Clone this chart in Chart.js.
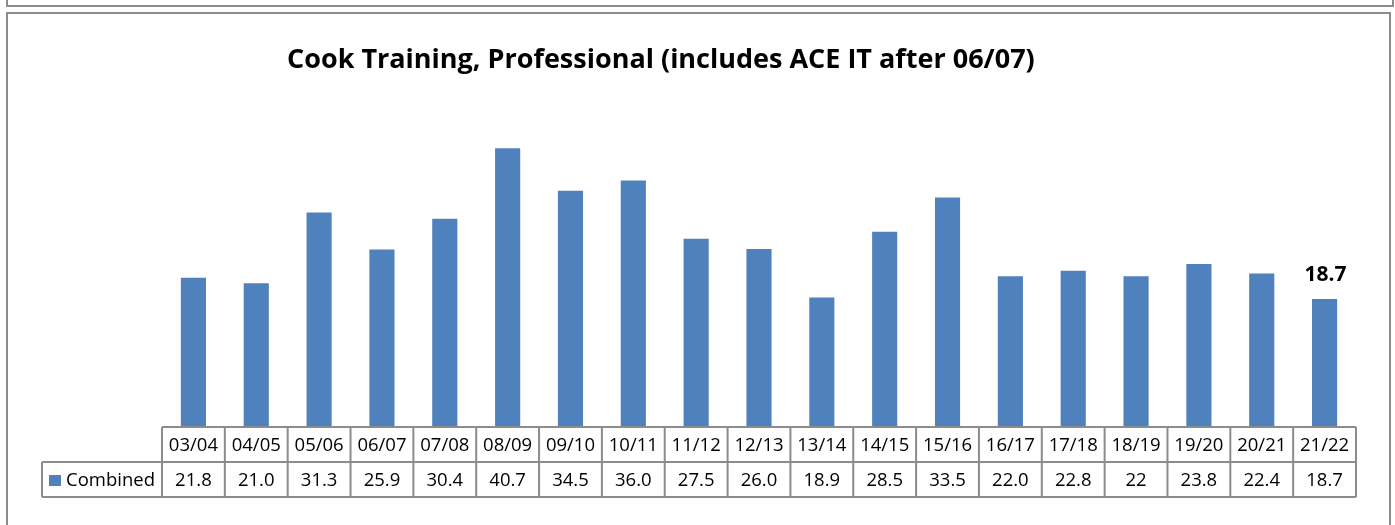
<!DOCTYPE html>
<html>
<head>
<meta charset="utf-8">
<script src="https://cdn.jsdelivr.net/npm/chart.js@4.4.1/dist/chart.umd.min.js"></script>
<style>
  html, body { margin: 0; padding: 0; background: #fff; }
  #wrap { position: relative; width: 1395px; height: 525px; overflow: hidden; }
  #topBox { position: absolute; left: 6px; top: -10px; width: 1384px; height: 13px; border: 2px solid #8c8c8c; }
  #mainBox { position: absolute; left: 6px; top: 12px; width: 1381px; height: 540px; border: 2px solid #8c8c8c; }
  canvas { position: absolute; left: 0; top: 0; }
</style>
</head>
<body>
<div id="wrap">
  <div id="topBox"></div>
  <div id="mainBox"></div>
  <canvas id="chart" width="1395" height="525"></canvas>
</div>
<script>
const years = ["03/04", "04/05", "05/06", "06/07", "07/08", "08/09", "09/10", "10/11", "11/12", "12/13",
  "13/14", "14/15", "15/16", "16/17", "17/18", "18/19", "19/20", "20/21", "21/22"];
const combined = [21.8, 21.0, 31.3, 25.9, 30.4, 40.7, 34.5, 36.0, 27.5, 26.0,
  18.9, 28.5, 33.5, 22.0, 22.8, 22, 23.8, 22.4, 18.7];
// as printed in the data table
const combinedText = ["21.8", "21.0", "31.3", "25.9", "30.4", "40.7", "34.5", "36.0", "27.5", "26.0",
  "18.9", "28.5", "33.5", "22.0", "22.8", "22", "23.8", "22.4", "18.7"];
const seriesName = "Combined";
const chartTitle = "Cook Training, Professional (includes ACE IT after 06/07)";

const barColor = "#4f81bd";
const gridColor = "#8c8c8c";
const font = "'Open Sans', sans-serif";

// title + data table + last-value label
const tablePlugin = {
  id: "dataTable",
  afterDraw(chart) {
    const ctx = chart.ctx;
    const x = chart.scales.x;
    const area = chart.chartArea;
    const step = x.getPixelForValue(1) - x.getPixelForValue(0);
    const left = x.getPixelForValue(0) - step / 2;
    const right = x.getPixelForValue(years.length - 1) + step / 2;
    const rowH = 35;
    const top = area.bottom;
    const legendLeft = 42;

    ctx.save();
    // title
    ctx.fillStyle = "#000";
    ctx.font = "bold 27px " + font;
    ctx.textAlign = "left";
    ctx.textBaseline = "alphabetic";
    ctx.fillText(chartTitle, 287, 68);

    // value label on last bar
    const meta = chart.getDatasetMeta(0);
    const last = meta.data[meta.data.length - 1];
    ctx.font = "bold 21px " + font;
    ctx.textAlign = "center";
    ctx.fillText(combinedText[combinedText.length - 1], last.x + 1, 281);

    // grid
    ctx.strokeStyle = gridColor;
    ctx.lineWidth = 2;
    ctx.beginPath();
    ctx.moveTo(left, top); ctx.lineTo(right, top);
    ctx.moveTo(legendLeft, top + rowH); ctx.lineTo(right, top + rowH);
    ctx.moveTo(legendLeft, top + rowH * 2); ctx.lineTo(right, top + rowH * 2);
    ctx.moveTo(legendLeft, top + rowH); ctx.lineTo(legendLeft, top + rowH * 2);
    for (let i = 0; i <= years.length; i++) {
      const gx = left + i * step;
      ctx.moveTo(gx, top); ctx.lineTo(gx, top + rowH * 2);
    }
    ctx.stroke();

    // text
    ctx.fillStyle = "#000";
    ctx.font = "18.5px " + font;
    ctx.textAlign = "center";
    ctx.textBaseline = "middle";
    years.forEach((y, i) => {
      const cx = x.getPixelForValue(i);
      ctx.fillText(y, cx, top + rowH / 2 + 1);
      ctx.fillText(combinedText[i], cx, top + rowH * 1.5 + 1);
    });

    // legend key
    ctx.fillStyle = barColor;
    ctx.fillRect(49, top + rowH + 13, 12, 11);
    ctx.fillStyle = "#000";
    ctx.textAlign = "left";
    ctx.fillText(seriesName, 66, top + rowH * 1.5 + 1);
    ctx.restore();
  }
};

new Chart(document.getElementById("chart").getContext("2d"), {
  type: "bar",
  data: {
    labels: years,
    datasets: [{
      label: seriesName,
      data: combined,
      backgroundColor: barColor,
      borderWidth: 0,
      categoryPercentage: 1,
      barPercentage: 0.4
    }]
  },
  options: {
    responsive: false,
    animation: false,
    layout: { padding: { left: 162, right: 39, top: 84.5, bottom: 98 } },
    plugins: {
      legend: { display: false },
      title: { display: false },
      tooltip: { enabled: false }
    },
    scales: {
      x: { display: false },
      y: { display: false, min: 0, max: 50 }
    }
  },
  plugins: [tablePlugin]
});
</script>
</body>
</html>
